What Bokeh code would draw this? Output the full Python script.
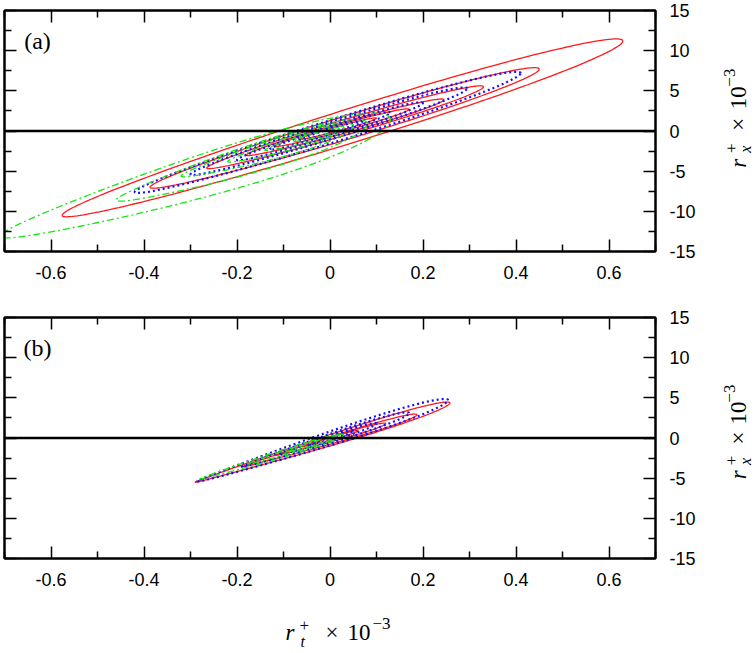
import math
import numpy as np
from bokeh.plotting import figure
from bokeh.models import Range1d, LinearAxis, FixedTicker, Span, Label
from bokeh.layouts import column, row
from bokeh.embed import file_html
from bokeh.resources import INLINE

# ---------------- data ----------------
X_RANGE = (-0.7, 0.7)
Y_RANGE = (-15, 15)
X_TICKS = [-0.6, -0.4, -0.2, 0, 0.2, 0.4, 0.6]
X_TICK_LABELS = ["-0.6", "-0.4", "-0.2", "0", "0.2", "0.4", "0.6"]
X_MINOR = [-0.7, -0.5, -0.3, -0.1, 0.1, 0.3, 0.5, 0.7]
Y_TICKS = [-15, -10, -5, 0, 5, 10, 15]
Y_TICK_LABELS = ["-15", "-10", "-5", "0", "5", "10", "15"]
Y_MINOR = [-12.5, -7.5, -2.5, 2.5, 7.5, 12.5]

# contour levels: lower-left tip, upper-right tip, half thickness
A_RED_LOW = [(-0.576, -10.5), (-0.387, -7.0), (-0.265, -4.6), (-0.18, -3.0), (-0.12, -1.9), (-0.065, -1.0)]
A_RED_HIGH = [(0.63, 11.2), (0.45, 7.7), (0.33, 5.5), (0.245, 3.9), (0.17, 2.7), (0.10, 1.6)]
A_RED_HALF = [2.2, 1.5, 1.0, 0.7, 0.47, 0.28]

A_BLUE_LOW = [(-0.42, -7.6), (-0.30, -5.4), (-0.20, -3.6), (-0.13, -2.3), (-0.07, -1.2)]
A_BLUE_HIGH = [(0.41, 7.2), (0.295, 5.3), (0.20, 3.5), (0.13, 2.3), (0.07, 1.2)]
A_BLUE_HALF = [1.45, 1.05, 0.7, 0.46, 0.25]

A_GREEN_LOW = [(-0.71, -13.1), (-0.46, -8.6), (-0.32, -5.6), (-0.22, -3.8), (-0.14, -2.4), (-0.08, -1.3)]
A_GREEN_HIGH = [(0.13, 1.4), (0.08, 0.9), (0.05, 0.6), (0.03, 0.4), (0.02, 0.25), (0.01, 0.12)]
A_GREEN_HALF = [2.7, 1.75, 1.2, 0.8, 0.5, 0.28]

B_RED_LOW = [(-0.29, -5.5), (-0.19, -3.6), (-0.12, -2.2), (-0.06, -1.1)]
B_RED_HIGH = [(0.258, 4.36), (0.187, 2.9), (0.12, 1.8), (0.06, 0.9)]
B_RED_HALF = [0.68, 0.45, 0.3, 0.16]

B_BLUE_LOW = [(-0.285, -5.4), (-0.19, -3.6), (-0.11, -2.1), (-0.05, -1.0)]
B_BLUE_HIGH = [(0.254, 4.7), (0.17, 3.1), (0.10, 1.8), (0.05, 0.9)]
B_BLUE_HALF = [0.85, 0.55, 0.32, 0.16]

B_GREEN_LOW = [(-0.28, -5.1), (-0.18, -3.3), (-0.10, -1.9)]
B_GREEN_HIGH = [(0.03, 0.4), (0.02, 0.3), (0.01, 0.15)]
B_GREEN_HALF = [0.45, 0.3, 0.18]

PANEL_TAGS = ["(a)", "(b)"]

# ---------------- layout constants ----------------
FRAME_LEFT = 4
FRAME_W = 651
FRAME_H = 241
RIGHT_BORDER = 63
SIDE_W = 37

RED = "#ff1a1a"
BLUE = "#1010ff"
GREEN = "#14e614"
SERIF = "Liberation Serif"


def outline(lo, hi, half, skew, n=200):
    t = np.linspace(0, 2 * np.pi, n)
    cx, cy = (lo[0] + hi[0]) / 2, (lo[1] + hi[1]) / 2
    ax, ay = (hi[0] - lo[0]) / 2, (hi[1] - lo[1]) / 2
    c, s = np.cos(t), np.sin(t)
    xs = cx + ax * c
    ys = cy + ay * c + half * (1 + skew * c) * s
    return list(xs), list(ys)


def contour_set(lows, highs, halves, skew):
    xs, ys = [], []
    for lo, hi, h in zip(lows, highs, halves):
        x, y = outline(lo, hi, h, skew)
        xs.append(x)
        ys.append(y)
    return xs, ys


def style_axis(ax, ticks, minor, labels, show_labels, standoff):
    ax.ticker = FixedTicker(ticks=ticks, minor_ticks=minor)
    ax.axis_line_color = "black"
    ax.axis_line_width = 2
    ax.major_tick_in = 12
    ax.major_tick_out = 0
    ax.minor_tick_in = 7
    ax.minor_tick_out = 0
    ax.major_tick_line_color = "black"
    ax.minor_tick_line_color = "black"
    ax.major_tick_line_width = 1.5
    ax.minor_tick_line_width = 1.5
    ax.major_label_standoff = standoff
    if show_labels:
        ax.major_label_overrides = {t: l for t, l in zip(ticks, labels)}
        ax.major_label_text_font = "Liberation Sans"
        ax.major_label_text_font_size = "18px"
        ax.major_label_text_color = "black"
    else:
        ax.major_label_overrides = {t: "" for t in ticks}
        ax.major_label_text_font_size = "0px"
        ax.major_label_text_alpha = 0


def label(p, x, y, text, size, italic=False, angle=0.0):
    # (x, y) is the centre of the text box
    p.add_layout(Label(x=x, y=y, x_units="data", y_units="data", text=text,
                       text_font=SERIF, text_font_size=size,
                       text_font_style="italic" if italic else "normal",
                       text_color="black", text_align="center",
                       text_baseline="middle", angle=angle, angle_units="rad"))


def make_panel(top_border, bottom_border, tag, red, blue, green, skews):
    p = figure(frame_width=FRAME_W, frame_height=FRAME_H,
               x_range=Range1d(*X_RANGE), y_range=Range1d(*Y_RANGE),
               y_axis_location="right", output_backend="svg", toolbar_location=None,
               min_border_left=FRAME_LEFT, min_border_right=RIGHT_BORDER,
               min_border_top=top_border, min_border_bottom=bottom_border,
               background_fill_color="white", border_fill_color="white",
               outline_line_color="black", outline_line_width=2)
    p.xgrid.visible = False
    p.ygrid.visible = False
    style_axis(p.xaxis[0], X_TICKS, X_MINOR, X_TICK_LABELS, True, 14)
    style_axis(p.yaxis[0], Y_TICKS, Y_MINOR, Y_TICK_LABELS, True, 14)
    top = LinearAxis()
    style_axis(top, X_TICKS, X_MINOR, X_TICK_LABELS, False, 0)
    p.add_layout(top, "above")
    left = LinearAxis()
    style_axis(left, Y_TICKS, Y_MINOR, Y_TICK_LABELS, False, 0)
    p.add_layout(left, "left")

    xs, ys = contour_set(*red, skews[0])
    p.multi_line(xs, ys, line_color=RED, line_width=1.3)
    xs, ys = contour_set(*blue, skews[1])
    p.multi_line(xs, ys, line_color=BLUE, line_width=2.2, line_dash="2 3")
    xs, ys = contour_set(*green, skews[2])
    p.multi_line(xs, ys, line_color=GREEN, line_width=1.3, line_dash="7 3 2 3")

    p.add_layout(Span(location=0, dimension="width", line_color="black", line_width=2.5))

    # panel tag centred 33 px right of frame left, 30 px below frame top
    tx = X_RANGE[0] + 33 / FRAME_W * (X_RANGE[1] - X_RANGE[0])
    ty = Y_RANGE[1] - 30 / FRAME_H * (Y_RANGE[1] - Y_RANGE[0])
    label(p, tx, ty, tag, "24px")
    return p


def blank(width, height):
    f = figure(width=width, height=height, x_range=Range1d(0, width), y_range=Range1d(0, height),
               title=None, x_axis_location=None, y_axis_location=None, output_backend="svg",
               toolbar_location=None, min_border=0, outline_line_color=None,
               background_fill_color="white", border_fill_color="white")
    f.xgrid.visible = False
    f.ygrid.visible = False
    return f


# pieces of the rotated label: (text, size, italic, centre x from figure left,
# centre y measured below the panel frame top)
Y_LABEL_PIECES = [
    ("r", "23px", True, 20.2, 174.5),
    ("+", "17px", False, 13.3, 156.2),
    ("x", "16px", True, 27.4, 157.4),
    ("\u00d7", "23px", False, 20.2, 127.5),
    ("10", "23px", False, 20.2, 95.5),
    ("\u22123", "17px", False, 11.3, 71.0),
]


def y_label_fig(height, frame_top):
    f = blank(SIDE_W, height)
    rot = math.pi / 2
    for text, size, ital, cx, rel in Y_LABEL_PIECES:
        label(f, cx, height - frame_top - rel, text, size, italic=ital, angle=rot)
    return f


A_TOP, A_BOTTOM = 10, 40
B_TOP, B_BOTTOM = 26, 40
pa = make_panel(A_TOP, A_BOTTOM, PANEL_TAGS[0],
                (A_RED_LOW, A_RED_HIGH, A_RED_HALF),
                (A_BLUE_LOW, A_BLUE_HIGH, A_BLUE_HALF),
                (A_GREEN_LOW, A_GREEN_HIGH, A_GREEN_HALF),
                (0.1, 0.1, 0.35))
pb = make_panel(B_TOP, B_BOTTOM, PANEL_TAGS[1],
                (B_RED_LOW, B_RED_HIGH, B_RED_HALF),
                (B_BLUE_LOW, B_BLUE_HIGH, B_BLUE_HALF),
                (B_GREEN_LOW, B_GREEN_HIGH, B_GREEN_HALF),
                (0.6, 0.5, 0.5))

ha = A_TOP + FRAME_H + A_BOTTOM
hb = B_TOP + FRAME_H + B_BOTTOM
ya = y_label_fig(ha, A_TOP)
yb = y_label_fig(hb, B_TOP)

# bottom axis label  r_t^+ x 10^-3 : centre x, centre y measured from the page bottom
XL_H = 653 - ha - hb
X_LABEL_PIECES = [
    ("r", "23px", True, 289.5, 20.8),
    ("+", "17px", False, 303.8, 27.7),
    ("t", "16px", True, 302.2, 11.6),
    ("\u00d7", "23px", False, 331.5, 20.8),
    ("10", "23px", False, 358.5, 20.8),
    ("\u22123", "17px", False, 381.0, 29.7),
]
xl = blank(FRAME_LEFT + FRAME_W + RIGHT_BORDER + SIDE_W, XL_H)
for text, size, ital, cx, cy in X_LABEL_PIECES:
    label(xl, cx, cy, text, size, italic=ital)

layout = column(row(pa, ya, spacing=0), row(pb, yb, spacing=0), xl, spacing=0)
open("out.html", "w").write(file_html(layout, INLINE))
